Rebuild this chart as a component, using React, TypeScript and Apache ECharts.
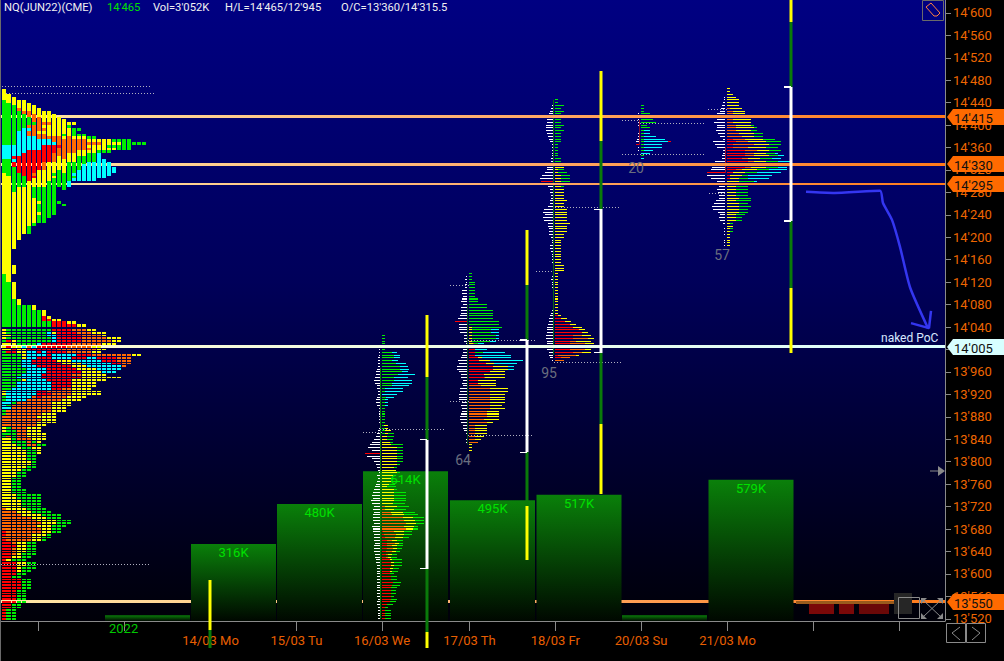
import React, { useEffect, useRef } from "react";
import * as echarts from "echarts";

// ---------- scale / labels ----------
const priceMin = 13516;
const priceMax = 14623;
const priceTicks = [13520,13560,13600,13640,13680,13720,13760,13800,13840,13880,13920,13960,14000,14040,14080,14120,14160,14200,14240,14280,14320,14360,14400,14440,14480,14520,14560,14600];
const sessionTicks = [38.6,124.7,210.5,296.4,382,469.5,555.3,641,727.5,813.5,899.5];
const dateLabels: Record<string,string> = {"210.5":"14/03 Mo","296.4":"15/03 Tu","382":"16/03 We","469.5":"17/03 Th","555.3":"18/03 Fr","641":"20/03 Su","727.5":"21/03 Mo"};

// ---------- header ----------
const headerSymbol = "NQ(JUN22)(CME)";
const headerLast = "14'465";
const headerVol = "Vol=3'052K";
const headerHL = "H/L=14'465/12'945";
const headerOC = "O/C=13'360/14'315.5";

// ---------- volume histogram ----------
const volumeSlots = [147.5,233.5,319.5,405.5,492.5,579,664.5,751];
const volumeValues = [24,316,480,614,495,517,24,579];

// ---------- level lines ----------
const upperLevels = [14415,14330,14295];
const pocLevel = 14005;
const lowerLevel = 13550;

// ---------- composite profile, upper part: one column per cell, runs of 5-point rows from the top price ----------
const upperColumnTops = [14465,14455,14450,14445,14445,14440,14435,14430,14425,14425,14420,14415,14410,14405,14405,14395,14385,14380,14380,14375,14375,14375,14375,14375,14375,14375,14370,14370,14370];
const upperColumnRuns = [
"Y4G16C5G5Y36G19",
"Y3G15C5G6Y38G16",
"Y3G14C4R1C1R2G9Y20_6Y3_3Y6G10",
"Y3O1G7C9R6G5Y19_21Y2G8",
"Y4O1G5C9R8G4Y17_25G8",
"Y3O2G3O1C1O2C5R11Y16G3_25G8",
"Y3O3G1O4C5R8O1R1Y3G4Y9G1_28Y2G6",
"Y3O5Y1O2C4R7Y6G5Y1G3Y1G3_31G6",
"Y4O1Y1O1Y1O2C2R6O3Y6G13_31Y2R2G2",
"Y4O1Y4O1C2R6Y7G13_35Y1R1G2",
"Y8O2C1R3O3Y4G1Y1G13_37Y1R2",
"Y7O3R1O3Y5G6_5G1_41Y1R2",
"Y5G1Y1O7Y5G6_5G1_41R2",
"Y1G1Y3O6Y3G7C2_48Y1R1",
"Y1_1G3Y1O5Y3G4C1G1C1_50Y1R1",
"G1_1G1Y1O4Y2G5C4_51Y1",
"G1Y1O4Y2G3C6_51Y1",
"G1Y1O1Y1O1Y1G3C7",
"G1Y1O1Y3G3C7",
"Y1O1Y2G1C9",
"Y4G1_2C7",
"Y2G1Y1G1_3C5",
"G1Y1G1Y1_6C2",
"G1Y1G2",
"G4",
"G4",
"G1",
"G1",
"G1",
];

// ---------- composite profile, lower part: one row per 5 points, cells from the left ----------
const lowerRowsTop = 14035;
const lowerRows = [
"Y1G9R4O3Y2","Y1G8C1Y1R4O3Y3","Y2G7C2R5O4Y1","Y1G9C1R5O5Y3","G1R1Y1G7C1R5O6Y2","Y3G4C1R6O6Y3","Y1R1Y2C1O1C1R6O5Y2","Y2R1Y2R6O8Y2","G1R2Y2C2R1C1R4O5Y2","G4Y1C4R1C5R3O8Y2",
"G4Y1C2R3C4R3C2R4O3","G4C2R5Y3C6R3O3","G4C2R6Y4C6R2O2","G4C3R7Y3C7O1","G5C4R6Y4C5","G5C4R7Y4C3","G4C4R6O2Y5","G3C5R8Y8","G4Y1C4R5Y7","G3C7R4Y5",
"G3C7R4Y5","G2C8R2O2Y4","Y1C6R2O5Y6","Y1C6R3O4Y6","G1C5O1R1O5Y4","G1C4O7Y4","C2G1O7Y4","C1G1O8Y4","C2O8Y3","G1O9Y3",
"G1O7Y3","O7Y4","O8Y3","O7Y4","O7Y2","Y1G1O3Y3","Y1G2O2Y3","G3O2Y4","G1O1G1O2Y4","Y2G1O3Y3",
"Y2G3O1G1Y1","Y3G2O2G2","Y4G2Y2","Y5G2Y1","Y5G2Y1","Y5G2","Y5G2","Y6G1","Y6G1","Y5G2",
"Y4G2","Y3G2","Y3G2","Y2G2","Y2G2","Y2G2","Y2G2","Y2G3","Y2G3","Y3G5",
"Y3G5","Y4G4","Y4G4","Y4G4","O1Y4G4","O3Y3G4","O4Y4G4","O6Y3G3","O7Y4G3","O8Y3G3",
"O7Y3G3","O8Y2G2","R1O7Y2G2","R1O5Y3G1","O6Y2G2","R1O5Y2G1","R2O1Y2G2","R3Y2G2","R2O1Y2G2","R2O1Y2G2",
"R2O1Y1G3","R2Y2G2","R1Y1G3","R3Y2G2","R3Y2G2","R3Y1G3","R3Y1G2","R3G2","R2G2","R4G2",
"R4G2","R4G2","R4G2","R3G2","R3G2","R3G2","R3G2","R3G2","R2G2","R2G2",
"R1G2","R1G2","R1G2","R1G2","R1G2",
];

// ---------- daily profiles: "left:runs", left width is white, "r" = red left side ----------
const wed16Top = 14025;
const wed16Rows = [
"0:G3","0:G3","0:G3","0:G3","1:G3","1:G3","1:G10C5","1:G12C6","2:G12C6","2:G10C6",
"2:G14C10","2:G18C8","3:G18C9","4:G20C6","4:G16C17","5:G12C14","6:G12C18","5:G10C20","3:G10C17","3:G3C18",
"2:G3C18","2:C15","3:G4C8","4:G3C3","4:G3C3","3:G3C3","1:G3","1:G3","1:G3","1:G3",
"1:G3","1:G3","0:G2Y4","1:G3Y3","2:G3Y6","3:G3Y3G6","4:Y5G7","6:Y5G6","8:Y8G3","10:Y9G12",
"12:Y15G6","8:Y15G6","15r:Y15G6","13:Y15G6","8:Y15G6","6:Y15G6","4:Y15G3","3:Y12G3","2:Y14","1:Y15G3",
"3:Y11G3","2:Y9G3","3:Y9G9","4:Y7G6","5:Y5G9","6:Y12G3","7:Y12G12","8:Y12G12","7:Y12G12","9:Y12G12",
"8:Y11G12","6:O3Y12G12","7:O3Y9G12","6:O9Y12G12","7:O10Y12G14","7:O21Y10G11","7:O22Y11G9","6:O24Y10G8","8:O22Y10G4","7:O24Y7G5",
"7:R1O11Y10G8","6:R2O12Y8G8","6:R3O10Y8G6","6:R5O5Y5G6","5:R5O8Y4G4","6:R5O5Y5G6","6:R5O6Y4G5","6:R4O6Y4G4","5:R4O2Y4G5","5:R4O2Y3G6",
"4:R8Y2G10","4:R9Y3G8","3:R9Y3G8","3:R8Y3G6","3:R8Y2G6","3:R8G4","3:R9G6","3:R9G6","3:R11G8","3:R10G8",
"3:R9G6","3:R9G5","3:R9G5","3:R9G3","2:R9G6","3:R8G6","3:R5G6","2:R3G3","2:R3G6","2:R3G6","2:R3G6","2:R3G6",
];
const thu17Top = 14135;
const thu17Rows = [
"0:G3","1:G3","2:G3","1:G6","2:G6","2:G6","5:G6","5:G6","4:G6","5:G9",
"6:G9","4:G18","6:G18","6:G24","6:G24","7:G24","9:G24","12r:G30","8:G30","8:Y3G30",
"8:Y3G19C8","7:Y3G19C8","3:Y3G24C3","3:Y3G24C3","3:Y3G18C6","1:Y4O1G4C6","1:Y8C8","4:R6C12","4:R6G8C22","5:R6C36",
"6:R9Y4C29","9:R10Y11C33","8:R17Y8C23","10:R24Y15C6","10:R24Y15C6","8:R21Y15","6:R15Y21","6:R15O1Y20","4:R9Y18","5:R9Y18",
"4:O12Y15","7:O21Y18","7:O21Y18","8:O21Y15","8:O21Y15","8:O21Y15","5:O21Y15","6:O21Y12","5:O21Y15","5:O18Y12",
"6:O18Y12","7:O18Y12","7:O15Y15","6:O18Y6","4:O6Y12","4:O6Y12","3:O6Y12","1:O6Y12","0:O6Y9","1:O6Y6",
"1:O9","0:Y3","0:Y3","0:Y3",
];
const fri18Top = 14445;
const fri18Rows = [
"0:G3","0:G3","1:G9","2:G6","3:G9","4:G6","5:G3","6:G6","6:G6","7:G9",
"7:G6","7:G9","6:G6","5:G6","4:G6","3:G6","1:G3","1:G3","1:G3","1:G3",
"1:G3","2:G6","2:G6","3:G6","6:Y9","6:Y3G6","8:Y3G9","11:Y6G9","13:Y6G9","12r:Y6G9",
"7:Y6G9","5:Y6G3","3:Y9","3:Y9","2:Y9","2:Y9","3:Y12","3:Y9","5:Y9","9:Y12",
"10:Y12","8:Y12","10:Y12","9:Y12","5:Y15","5:Y12","4:Y12","4:Y12","4:Y9","2:Y9",
"1:Y6","1:Y6","3:Y6","3:Y6","2:Y6","1:Y6","1:Y6","1:Y6","1:Y6","0:Y9",
"0:Y9","0:Y9","0:Y3","1:Y3","2:Y3","1:Y3","1:Y3","1:Y3","0:Y3","0:Y3",
"0:Y3","0:Y3","0:Y3","0:Y3","0:Y3","1:Y3","2:Y3","3:R3Y3","4:R6Y6","4:R10Y6",
"5:R15Y6","6:R18Y9","6:R24Y6","6:R27Y6","7:R18O9Y9","7:R18O15Y6","6:R15O6Y15","6:R15O15Y9","6:R15O15Y6","6:R15O15Y6",
"4:R18O9Y9","4:R3O18Y3","3:R6O9","1:O9",
];
const sun20Top = 14435;
const sun20Rows = [
"0:G3","0:G3","0:G3","1:G9","1:G12","1:G12","1:G15","1:G6","0:G9","0:G3C6",
"1:G3C6","1:G3C12","2:G3C21","3:G3C24R3","3r:G3C18","1:G3C18","1:G3C9","0:C9","0:G3","0:C3",
];
const mon21Top = 14465;
const mon21Rows = [
"0:Y3","0:Y3","0:Y6","1:Y9","1:Y12","2:Y12","3:Y12","4:O3Y12","5:O6Y12","8:O6Y12",
"8:O6Y12","8:O6Y18","11:O6Y18","8:O9Y15G3","8:O9Y18G3","9:O9Y15G6","7:O12Y15G9","5:O15Y12G9","2:R6O12Y18G12","12:R9O12Y18G15",
"10:R6O21Y15G12","8:R6O15Y18G12","2:R18O12Y12G12","2:R18O9Y12G9C3","3:R18O9Y15G9C6","3:R15O6Y12G12C9","10:R21O6Y12G12C12","13:R18O6Y12G15C12","13:R18O6Y15G12C9","14:R9O6Y15G12C18",
"18r:R6Y12G12C24","18:R3Y12G6C24","14:R3Y9G9C21","8:Y12G15C3","6:Y9G12C3","6:Y9G12","8:Y9G12","7:Y9G12","6:Y9G12","6:Y12G12",
"9:Y9G15","11:Y12G9","13:Y12G12","12:Y12G9","7:Y12G9","5:Y9G9","6:Y9G6","5:Y9G6","2:Y3G3","0:Y6",
"1:Y3G3","1:Y3G3","1:Y3","0:Y3","1:Y3","1:Y3","1:Y3",
];

// ---------- session range lines: x, then [colour, from price, to price] ----------
const rangeA = [["Y",13589,13500],["g",13500,13468]];
const rangeB = [["Y",14062,13951],["g",13951,13839],["W",13839,13609],["g",13609,13496],["Y",13496,13468]];
const rangeC = [["Y",14213,14115],["g",14115,14017],["W",14017,13817],["g",13817,13721],["Y",13721,13625]];
const rangeD = [["Y",14496,14372],["g",14372,14250],["W",14250,13994],["g",13994,13867],["Y",13867,13742]];
const rangeE = [["Y",14623,14584],["g",14584,14468],["W",14468,14229],["g",14229,14110],["Y",14110,13994]];
// thin inner lines: x, top, bottom, colour
const innerLines = [[380.5,13967,13520,"#0a7a0a"],[467.5,14080,13830,"#064a14"],[553.5,14445,13990,"#0a6a14"],[639.5,14409,14365,"#8a1030"],[725.5,14361,14315,"#a01030"]];

// ---------- dotted reference levels: from x, to x, price ----------
const dottedLines = [
[2,150,14469],[0,156,14458],[1,150,13617],[380,446,13858],[363,382,13853],[468,535,14017],[468,533,13848],[450,469,13908],[450,469,14115],
[555,619,14254],[554,621,13978],[536,553,14140],[536,553,14414],[622,639,14409],[640,705,14404],[622,705,14348],[708,727,14429],[709,727,14279],[730,790,14414],[730,790,14295],
];

// ---------- session counts ----------
const countLabels = [["64",463,13803],["95",549,13958],["20",636,14324],["57",722,14168]];

// ---------- hand-drawn arrow ----------
const arrowLine = [[806,14281],[833,14279],[880,14283],[883,14261],[892,14231],[900,14183],[910,14111],[928,14038]];
const arrowHead = [[911,14047],[929,14038],[931,14069]];

// ---------- masked block near the last level ----------
const maskBlocks = [[796,910,13552,13547,"#9a5a1c"],[809,834,13546,13528,"#7a0808"],[839,854,13546,13528,"#7a0808"],[859,889,13546,13528,"#6a0808"],[894,912,13566,13528,"#262626"]];

const palette: Record<string,string> = { Y:"#ffff00", G:"#00ee00", C:"#00ffff", R:"#ff0000", O:"#ff6a00", W:"#ffffff", g:"#0a7a0a" };

function parseRuns(s: string) {
  const out: { c: string; n: number }[] = [];
  const re = /([A-Za-z_])(\d+)/g;
  let m;
  while ((m = re.exec(s))) out.push({ c: m[1], n: +m[2] });
  return out;
}
const cellX = (k: number) => (k === 0 ? 2 : k === 1 ? 6 : 2 + 5 * k);
const cellW = (k: number) => (k === 1 ? 5 : 4);

type Seg = [number, number, number, number, string];
// x0, x1, top price, bottom price, colour
function buildUpper(): Seg[] {
  const segs: Seg[] = [];
  upperColumnRuns.forEach((str, k) => {
    let p = upperColumnTops[k];
    parseRuns(str).forEach((r) => {
      if (r.c !== "_") segs.push([cellX(k), cellX(k) + cellW(k), p, p - r.n * 5, palette[r.c]]);
      p -= r.n * 5;
    });
  });
  return segs;
}
function buildLower(): Seg[] {
  const segs: Seg[] = [];
  lowerRows.forEach((str, i) => {
    const p = lowerRowsTop - i * 5;
    let k = 0;
    parseRuns(str).forEach((r) => {
      for (let j = 0; j < r.n; j++, k++) segs.push([cellX(k), cellX(k) + cellW(k), p + 1.6, p - 1.6, palette[r.c]]);
    });
  });
  return segs;
}
function buildSession(base: number, top: number, rows: string[]): Seg[] {
  const segs: Seg[] = [];
  rows.forEach((row, i) => {
    const p = top - i * 5;
    const [l, r] = row.split(":");
    const red = l.endsWith("r");
    const left = parseInt(l, 10);
    if (left > 0) segs.push([base - 2 - left, base - 2, p + 0.9, p - 0.9, red ? "#ff0000" : "#ffffff"]);
    let x = base;
    parseRuns(r).forEach((run) => {
      segs.push([x, x + run.n, p + 0.9, p - 0.9, palette[run.c]]);
      x += run.n;
    });
  });
  return segs;
}
function buildRange(x: number, parts: any[]): Seg[] {
  const segs: Seg[] = parts.map((q) => [x - 1.5, x + 1.5, q[1], q[2], palette[q[0]]] as Seg);
  parts.forEach((q) => {
    if (q[0] === "W") {
      segs.push([x - 7, x, q[1] + 1, q[1] - 1, "#ffffff"]);
      segs.push([x - 7, x, q[2] + 1, q[2] - 1, "#ffffff"]);
    }
  });
  return segs;
}

const fmtPrice = (v: number) => {
  const s = String(Math.round(v));
  return s.slice(0, s.length - 3) + "'" + s.slice(-3);
};

function segSeries(segs: Seg[], z: number, clip = true, crisp = true): any {
  return {
    type: "custom",
    coordinateSystem: "cartesian2d",
    xAxisIndex: 0,
    yAxisIndex: 0,
    z,
    clip,
    silent: true,
    encode: { x: 0, y: 2 },
    data: segs.map((s) => [s[0], s[1], s[2], s[3]]),
    renderItem: (params: any, api: any) => {
      const a = api.coord([api.value(0), api.value(2)]);
      const b = api.coord([api.value(1), api.value(3)]);
      let y0 = a[1];
      let y1 = b[1];
      if (crisp) { y0 = Math.round(y0); y1 = Math.round(y1); }
      if (y1 - y0 < 1) y1 = y0 + 1;
      return { type: "rect", shape: { x: a[0], y: y0, width: b[0] - a[0], height: y1 - y0 }, style: { fill: segs[params.dataIndex][4] } };
    },
  };
}

const upperGrad = () => new echarts.graphic.LinearGradient(0, 0, 1, 0, [
  { offset: 0, color: "#ffe9a8" }, { offset: 0.5, color: "#ffb070" }, { offset: 1, color: "#ff7a1a" },
]);
const pocGrad = () => new echarts.graphic.LinearGradient(0, 0, 1, 0, [
  { offset: 0, color: "#fffbd0" }, { offset: 1, color: "#dcffff" },
]);

function levelSeries(levels: number[], widths: number[], z: number, grads: any[]): any {
  return {
    type: "custom", coordinateSystem: "cartesian2d", xAxisIndex: 0, yAxisIndex: 0, z, silent: true, clip: true,
    encode: { y: 0 },
    data: levels.map((l) => [l]),
    renderItem: (params: any, api: any) => {
      const c = api.coord([0, api.value(0)]);
      const e = api.coord([945, api.value(0)]);
      const h = widths[params.dataIndex];
      return { type: "rect", shape: { x: c[0], y: Math.round(c[1] - h / 2), width: e[0] - c[0], height: h }, style: { fill: grads[params.dataIndex] } };
    },
  };
}

export default function App() {
  const ref = useRef<HTMLDivElement>(null);
  useEffect(() => {
    document.body.style.margin = "0";
    document.body.style.background = "#000";
    const chart = echarts.init(ref.current!, undefined, { renderer: "svg" });
    const tagLevels = [14415, 14330, 14295, 14005, 13550];
    const sessionSegs = [
      ...buildSession(382, wed16Top, wed16Rows),
      ...buildSession(469, thu17Top, thu17Rows),
      ...buildSession(555, fri18Top, fri18Rows),
      ...buildSession(641, sun20Top, sun20Rows),
      ...buildSession(727, mon21Top, mon21Rows),
    ];
    const rangeSegs = [...buildRange(210, rangeA), ...buildRange(427, rangeB), ...buildRange(527, rangeC), ...buildRange(601, rangeD), ...buildRange(791, rangeE)];
    const option: any = {
      animation: false,
      backgroundColor: "#000",
      textStyle: { fontFamily: "Roboto" },
      grid: {
        left: 0, right: 59, top: 0, bottom: 40, show: true, borderWidth: 0,
        backgroundColor: new echarts.graphic.LinearGradient(0, 0, 0, 1, [
          { offset: 0, color: "#000082" }, { offset: 0.45, color: "#00005a" }, { offset: 1, color: "#000008" },
        ]),
      },
      xAxis: {
        type: "value", min: 0, max: 945, splitLine: { show: false },
        axisLine: { show: true, onZero: false, lineStyle: { color: "#8a8a8a", width: 1 } },
        axisTick: { show: true, length: 10, customValues: sessionTicks, lineStyle: { color: "#8a8a8a" } },
        axisLabel: {
          show: true, customValues: sessionTicks.filter((t) => dateLabels[String(t)]), hideOverlap: false,
          color: "#e85f00", fontSize: 13, fontFamily: "Roboto", margin: 13,
          formatter: (v: number) => dateLabels[String(v)] || "",
        },
      },
      yAxis: [
        {
          type: "value", position: "right", min: priceMin, max: priceMax, splitLine: { show: false },
          axisLine: { show: true, onZero: false, lineStyle: { color: "#8a8a8a", width: 1 } },
          axisTick: { show: true, length: 6, customValues: priceTicks, lineStyle: { color: "#8a8a8a" } },
          axisLabel: { customValues: priceTicks, color: "#ee6600", fontSize: 13, fontFamily: "Roboto", margin: 8, formatter: fmtPrice, hideOverlap: false },
        },
        { type: "value", min: 0, max: 2545, show: false },
      ],
      series: [
        levelSeries([lowerLevel], [3], 1, [upperGrad()]),
        {
          type: "bar", xAxisIndex: 0, yAxisIndex: 1, barWidth: 85, z: 2, silent: true,
          data: volumeSlots.map((x, i) => [x, volumeValues[i]]),
          itemStyle: { color: new echarts.graphic.LinearGradient(0, 0, 0, 1, [
            { offset: 0, color: "#0a800a" }, { offset: 1, color: "#000800" },
          ]) },
          label: { show: true, position: "insideTop", distance: 2, color: "#00e000", fontSize: 13, fontFamily: "Roboto",
            formatter: (p: any) => (p.value[1] > 100 ? p.value[1] + "K" : "") },
        },
        segSeries(sessionSegs, 4),
        {
          type: "custom", coordinateSystem: "cartesian2d", xAxisIndex: 0, yAxisIndex: 0, z: 4, silent: true,
          encode: { x: 0, y: 1 },
          data: innerLines.map((l) => [l[0], l[1], l[2]]),
          renderItem: (params: any, api: any) => {
            const a = api.coord([api.value(0), api.value(1)]);
            const b = api.coord([api.value(0), api.value(2)]);
            return { type: "rect", shape: { x: Math.floor(a[0]), y: a[1], width: 1, height: b[1] - a[1] }, style: { fill: innerLines[params.dataIndex][3] as string } };
          },
        },
        {
          type: "custom", coordinateSystem: "cartesian2d", xAxisIndex: 0, yAxisIndex: 0, z: 5, silent: true,
          encode: { x: 0, y: 2 },
          data: dottedLines,
          renderItem: (params: any, api: any) => {
            const a = api.coord([api.value(0), api.value(2)]);
            const b = api.coord([api.value(1), api.value(2)]);
            return { type: "line", shape: { x1: a[0], y1: Math.round(a[1]) + 0.5, x2: b[0], y2: Math.round(a[1]) + 0.5 }, style: { stroke: "#b0b0c0", lineWidth: 1, lineDash: [1, 2] } };
          },
        },
        levelSeries([...upperLevels, pocLevel], [3, 3, 2, 3], 6, [upperGrad(), upperGrad(), upperGrad(), pocGrad()]),
        segSeries(buildUpper(), 7),
        segSeries(buildLower(), 7),
        segSeries(rangeSegs, 7, false),
        segSeries(maskBlocks.map((b) => [b[0], b[1], b[2], b[3], b[4]] as Seg), 7),
        {
          type: "custom", coordinateSystem: "cartesian2d", xAxisIndex: 0, yAxisIndex: 0, z: 8, silent: true,
          encode: { x: 1, y: 2 },
          data: countLabels.map((c) => [c[0], c[1], c[2]]),
          dimensions: [{ name: "t", type: "ordinal" }, "x", "y"],
          renderItem: (params: any, api: any) => {
            const c = countLabels[params.dataIndex];
            const a = api.coord([c[1], c[2]]);
            return { type: "text", x: a[0], y: a[1], style: { text: c[0] as string, fill: "#6a6e7e", font: "14px Roboto", textAlign: "center", textVerticalAlign: "middle" } };
          },
        },
        { type: "line", xAxisIndex: 0, yAxisIndex: 0, z: 9, silent: true, symbol: "none", smooth: 0.2, data: arrowLine, lineStyle: { color: "#3436f0", width: 2.5 } },
        { type: "line", xAxisIndex: 0, yAxisIndex: 0, z: 9, silent: true, symbol: "none", data: arrowHead, lineStyle: { color: "#3436f0", width: 2.5 } },
        {
          type: "custom", coordinateSystem: "cartesian2d", xAxisIndex: 0, yAxisIndex: 0, z: 20, silent: true, clip: false,
          encode: { y: 0 },
          data: tagLevels.map((l) => [l]),
          renderItem: (params: any, api: any) => {
            const p = api.value(0);
            const c = api.coord([945, p]);
            const y = Math.round(c[1]);
            const light = p === pocLevel;
            return {
              type: "group",
              children: [
                { type: "polygon", shape: { points: [[947, y], [953, y - 8], [1004, y - 8], [1004, y + 8], [953, y + 8]] }, style: { fill: light ? "#d8ffff" : "#ff6a00" } },
                { type: "text", x: 954, y: y + 1, style: { text: fmtPrice(p), fill: "#101010", font: "13px Roboto", textVerticalAlign: "middle" } },
              ],
            };
          },
        },
      ],
      graphic: [
        { type: "rect", shape: { x: 0, y: 0, width: 1, height: 661 }, style: { fill: "#6a6a6a" }, z: 30 },
        { type: "text", x: 4, y: 2, style: { text: headerSymbol, fill: "#f0f0f0", font: "11.2px Roboto" }, z: 30 },
        { type: "text", x: 107, y: 2, style: { text: headerLast, fill: "#00e000", font: "11.2px Roboto" }, z: 30 },
        { type: "text", x: 153, y: 2, style: { text: headerVol, fill: "#f0f0f0", font: "11.2px Roboto" }, z: 30 },
        { type: "text", x: 225, y: 2, style: { text: headerHL, fill: "#f0f0f0", font: "11.2px Roboto" }, z: 30 },
        { type: "text", x: 341, y: 2, style: { text: headerOC, fill: "#f0f0f0", font: "11.2px Roboto" }, z: 30 },
        { type: "text", x: 109, y: 622, style: { text: "2022", fill: "#00c800", font: "13px Roboto" }, z: 30 },
        { type: "text", x: 881, y: 332, style: { text: "naked PoC", fill: "#d8e8ff", font: "12px Roboto" }, z: 30 },
        // tag icon
        { type: "rect", shape: { x: 922.5, y: 0.5, width: 21, height: 20 }, style: { fill: "none", stroke: "#6a6a6a", lineWidth: 1 }, z: 30 },
        { type: "polygon", shape: { points: [[926, 7], [931, 3], [940, 13], [937, 16], [934, 16]] }, style: { fill: "none", stroke: "#ff8040", lineWidth: 1 }, z: 30 },
        // cursor arrow
        { type: "polygon", shape: { points: [[938, 466], [945, 471], [938, 476]] }, style: { fill: "#8a8a8a" }, z: 30 },
        { type: "line", shape: { x1: 930, y1: 471, x2: 940, y2: 471 }, style: { stroke: "#8a8a8a", lineWidth: 1 }, z: 30 },
        // corner icons
        { type: "rect", shape: { x: 898.5, y: 597.5, width: 21, height: 21 }, style: { fill: "none", stroke: "#8a8a8a", lineWidth: 1 }, z: 30 },
        { type: "line", shape: { x1: 923, y1: 600, x2: 941, y2: 617 }, style: { stroke: "#8a8a8a", lineWidth: 1 }, z: 30 },
        { type: "line", shape: { x1: 941, y1: 600, x2: 923, y2: 617 }, style: { stroke: "#8a8a8a", lineWidth: 1 }, z: 30 },
        { type: "polygon", shape: { points: [[921, 598], [927, 598], [921, 604]] }, style: { fill: "#8a8a8a" }, z: 30 },
        { type: "polygon", shape: { points: [[943, 598], [937, 598], [943, 604]] }, style: { fill: "#8a8a8a" }, z: 30 },
        { type: "polygon", shape: { points: [[921, 619], [927, 619], [921, 613]] }, style: { fill: "#8a8a8a" }, z: 30 },
        { type: "polygon", shape: { points: [[943, 619], [937, 619], [943, 613]] }, style: { fill: "#8a8a8a" }, z: 30 },
        // pager
        { type: "rect", shape: { x: 946.5, y: 623.5, width: 19, height: 19 }, style: { fill: "none", stroke: "#8a8a8a", lineWidth: 1 }, z: 30 },
        { type: "rect", shape: { x: 966.5, y: 623.5, width: 19, height: 19 }, style: { fill: "none", stroke: "#8a8a8a", lineWidth: 1 }, z: 30 },
        { type: "polyline", shape: { points: [[960, 627], [952, 633], [960, 640]] }, style: { fill: "none", stroke: "#8a8a8a", lineWidth: 1 }, z: 30 },
        { type: "polyline", shape: { points: [[972, 627], [980, 633], [972, 640]] }, style: { fill: "none", stroke: "#8a8a8a", lineWidth: 1 }, z: 30 },
      ],
    };
    chart.setOption(option);
    return () => chart.dispose();
  }, []);
  return <div ref={ref} style={{ width: 1004, height: 661 }} />;
}
